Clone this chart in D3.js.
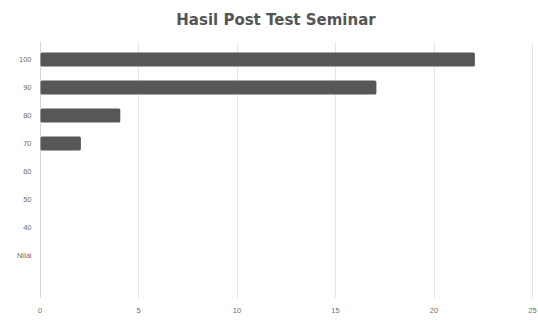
<!DOCTYPE html>
<html>
<head>
<meta charset="utf-8">
<script src="https://cdn.jsdelivr.net/npm/d3@7"></script>
<style>
  html, body { margin: 0; padding: 0; background: #fff; }
  svg { display: block; }
</style>
</head>
<body>
<div id="chart"></div>
<script>
// Post-test score groups and how many participants fell in each
const categories = ["100", "90", "80", "70", "60", "50", "40", "Nilai"];
const counts = [22, 17, 4, 2, 0, 0, 0, 0];
const xTicks = [0, 5, 10, 15, 20, 25];
const title = "Hasil Post Test Seminar";

const width = 538, height = 320;
const margin = { top: 45.5, right: 6, bottom: 50, left: 39.5 };

const svg = d3.select("#chart").append("svg")
  .attr("width", width)
  .attr("height", height);

const x = d3.scaleLinear()
  .domain([0, 25])
  .range([margin.left, 532]);

const y = d3.scaleBand()
  .domain(categories)
  .range([margin.top, margin.top + 28 * categories.length])
  .paddingInner(0.5)
  .paddingOuter(0.25);

// vertical gridlines
svg.append("g")
  .selectAll("line")
  .data(xTicks)
  .join("line")
  .attr("x1", d => Math.round(x(d)) + 0.5)
  .attr("x2", d => Math.round(x(d)) + 0.5)
  .attr("y1", 42)
  .attr("y2", 298)
  .attr("stroke", d => d === 0 ? "#d6d6d6" : "#e6e6e6")
  .attr("stroke-width", 1);

// bottom tick labels
const xAxis = d3.axisBottom(x).tickValues(xTicks).tickSize(0).tickPadding(0);
const gx = svg.append("g")
  .attr("transform", "translate(0,308)")
  .call(xAxis);
gx.select(".domain").remove();
gx.selectAll("text")
  .attr("font-family", "Liberation Sans, Arial, sans-serif")
  .attr("font-size", 7.5)
  .attr("fill", "#6e6e6e");

// category labels
const yAxis = d3.axisLeft(y).tickSize(0).tickPadding(8);
const gy = svg.append("g")
  .attr("transform", `translate(${margin.left},0)`)
  .call(yAxis);
gy.select(".domain").remove();
gy.selectAll("text")
  .attr("font-family", "Liberation Sans, Arial, sans-serif")
  .attr("font-size", 7.5)
  .attr("fill", "#6e6e6e");

// bars
svg.append("g")
  .selectAll("rect")
  .data(categories.map((c, i) => ({ c, v: counts[i] })).filter(d => d.v > 0))
  .join("rect")
  .attr("x", x(0) + 1)
  .attr("y", d => y(d.c))
  .attr("width", d => x(d.v) - x(0) + 1)
  .attr("height", y.bandwidth())
  .attr("rx", 1.5)
  .attr("fill", "#575757");

// title
svg.append("text")
  .attr("x", 276)
  .attr("y", 24.5)
  .attr("text-anchor", "middle")
  .attr("font-family", "DejaVu Sans, sans-serif")
  .attr("font-weight", "bold")
  .attr("font-size", 15)
  .attr("fill", "#555")
  .text(title);
</script>
</body>
</html>
